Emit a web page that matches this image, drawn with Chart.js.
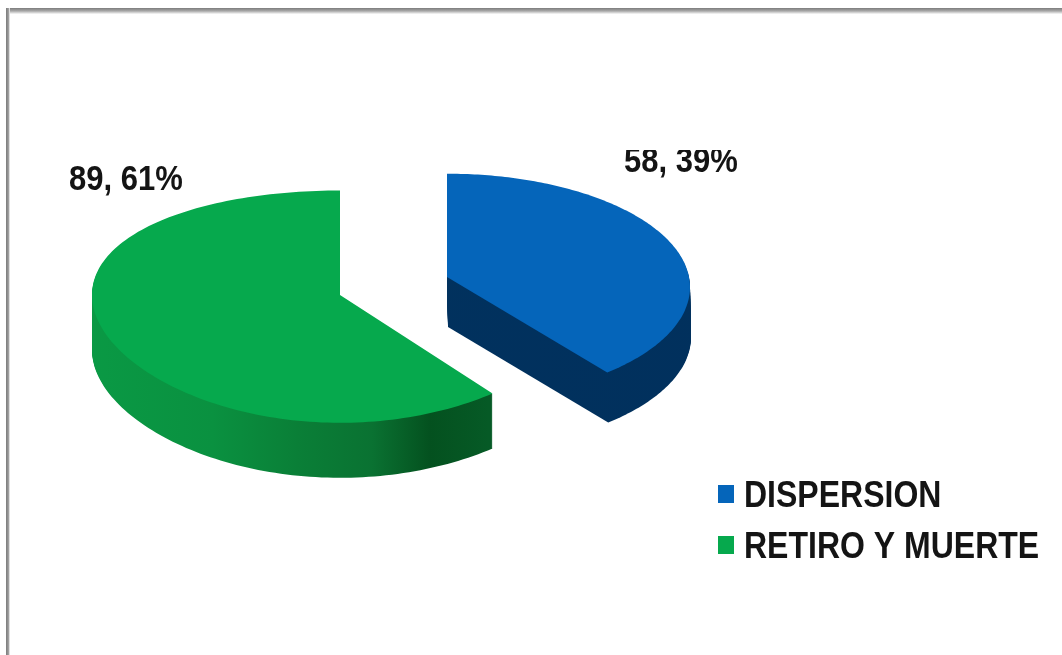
<!DOCTYPE html>
<html lang="es">
<head>
<meta charset="utf-8">
<title>Dispersión y retiro</title>
<script src="https://cdn.jsdelivr.net/npm/chart.js@4/dist/chart.umd.min.js"></script>
<style>
  html, body { margin: 0; padding: 0; background: #fff; overflow: hidden; }
  canvas { display: block; }
</style>
</head>
<body>
<canvas id="pie" width="1062" height="655"></canvas>
<script>
// Chart values
const categories = ['DISPERSION', 'RETIRO Y MUERTE'];
const values = [58, 89];
const faceColors = ['#0565ba', '#06a94d'];

// Perspective and placement of each exploded slice, relative to the pie centre
const sliceViews = [
  { dx: 54, dy: -8, radius: 242, tilt: 112.6, lens: 0.09, widen: 1, depth: 50, drift: 1,
    side: [[0, '#01335f'], [1, '#012f5c']] },
  { dx: -53, dy: 10, radius: 248, tilt: 115, lens: 0.1, widen: 0, depth: 55, drift: 0,
    side: [[0.07, '#0a9a45'], [0.2, '#0a9140'], [0.28, '#0a7f37'], [0.35, '#0a7232'],
           [0.405, '#04511f'], [0.46, '#065a26']] }
];
const labelSpots = [
  { x: 624, y: 172, clipTop: 150 },
  { x: 69, y: 190, clipTop: 0 }
];
const legendSpot = { x: 718, y: 485, box: 16, boxTall: 18, gap: 10, row: 51 };
const TEXT_FONT = 'bold 31px "Liberation Sans", Arial, sans-serif';
const LEGEND_FONT = 'bold 32px "Liberation Sans", Arial, sans-serif';
const TEXT_STRETCH = 1.13;

// Projects an angle on the slice rim onto the tilted pie plane
function rimPoint(view, cx, cy, angle) {
  const u = Math.cos(angle), v = Math.sin(angle);
  const w = 1 - view.lens * v;
  const xw = view.widen ? w : 1;
  return [cx + view.radius * u / xw, cy + view.tilt * v / w];
}

function traceSlice(ctx, arc, view, shiftX, shiftY) {
  const { x, y, startAngle, endAngle } = arc.getProps(['x', 'y', 'startAngle', 'endAngle'], true);
  const ax = x + view.dx + shiftX, ay = y + view.dy + shiftY;
  ctx.beginPath();
  ctx.moveTo(ax, ay);
  const steps = 160;
  for (let i = 0; i <= steps; i++) {
    const a = startAngle + (endAngle - startAngle) * i / steps;
    const p = rimPoint(view, ax, ay, a);
    ctx.lineTo(p[0], p[1]);
  }
  ctx.closePath();
}

// Text stretched upward from its baseline
function tallText(ctx, text, x, y) {
  ctx.save();
  ctx.translate(x, y);
  ctx.scale(1, TEXT_STRETCH);
  ctx.fillText(text, 0, 0);
  ctx.restore();
}

// Replaces the flat arcs with raised, tilted slices
const raisedPie = {
  id: 'raisedPie',
  beforeDatasetsDraw(chart) {
    const ctx = chart.ctx;
    const arcs = chart.getDatasetMeta(0).data;
    arcs.forEach((arc, i) => {
      const view = sliceViews[i];
      const grad = ctx.createLinearGradient(0, 0, 1062, 0);
      view.side.forEach(s => grad.addColorStop(s[0], s[1]));
      ctx.save();
      ctx.fillStyle = grad;
      for (let d = view.depth; d > 0; d--) {
        traceSlice(ctx, arc, view, view.drift * d / view.depth, d);
        ctx.fill();
      }
      traceSlice(ctx, arc, view, 0, 0);
      ctx.fillStyle = arc.options.backgroundColor;
      ctx.fill();
      ctx.restore();
    });
    return false;
  },
  afterDraw(chart) {
    const ctx = chart.ctx;
    const total = values.reduce((a, b) => a + b, 0);
    ctx.save();
    ctx.fillStyle = '#141414';
    ctx.textAlign = 'left';
    ctx.textBaseline = 'alphabetic';

    // Value and share next to each slice
    ctx.font = TEXT_FONT;
    values.forEach((value, i) => {
      const spot = labelSpots[i];
      ctx.save();
      ctx.beginPath();
      ctx.rect(0, spot.clipTop, 1062, 655 - spot.clipTop);
      ctx.clip();
      tallText(ctx, value + ', ' + Math.round(value / total * 100) + '%', spot.x, spot.y);
      ctx.restore();
    });

    // Legend
    ctx.font = LEGEND_FONT;
    categories.forEach((name, i) => {
      const top = legendSpot.y + i * legendSpot.row;
      ctx.fillStyle = faceColors[i];
      ctx.fillRect(legendSpot.x, top, legendSpot.box, legendSpot.boxTall);
      ctx.fillStyle = '#141414';
      tallText(ctx, name, legendSpot.x + legendSpot.box + legendSpot.gap, top + 22);
    });
    ctx.restore();
  },
  beforeDraw(chart) {
    // Worn grey frame along the top and left edges
    const ctx = chart.ctx;
    ctx.save();
    ctx.fillStyle = '#ffffff';
    ctx.fillRect(0, 0, 1062, 655);
    const top = ctx.createLinearGradient(0, 8, 0, 14);
    top.addColorStop(0, '#7c7c7c');
    top.addColorStop(0.5, '#a8a8a8');
    top.addColorStop(1, '#fafafa');
    ctx.fillStyle = top;
    ctx.fillRect(6, 8, 1056, 6);
    const left = ctx.createLinearGradient(6, 0, 10, 0);
    left.addColorStop(0, '#7c7c7c');
    left.addColorStop(0.6, '#9a9a9a');
    left.addColorStop(1, '#ffffff');
    ctx.fillStyle = left;
    ctx.fillRect(6, 8, 4, 647);
    ctx.restore();
  }
};

new Chart(document.getElementById('pie'), {
  type: 'pie',
  data: {
    labels: categories,
    datasets: [{ data: values, backgroundColor: faceColors, borderWidth: 0 }]
  },
  options: {
    responsive: false,
    animation: false,
    radius: 250,
    layout: { padding: { right: 276, bottom: 85 } },
    plugins: { legend: { display: false }, tooltip: { enabled: false } }
  },
  plugins: [raisedPie]
});
</script>
</body>
</html>
